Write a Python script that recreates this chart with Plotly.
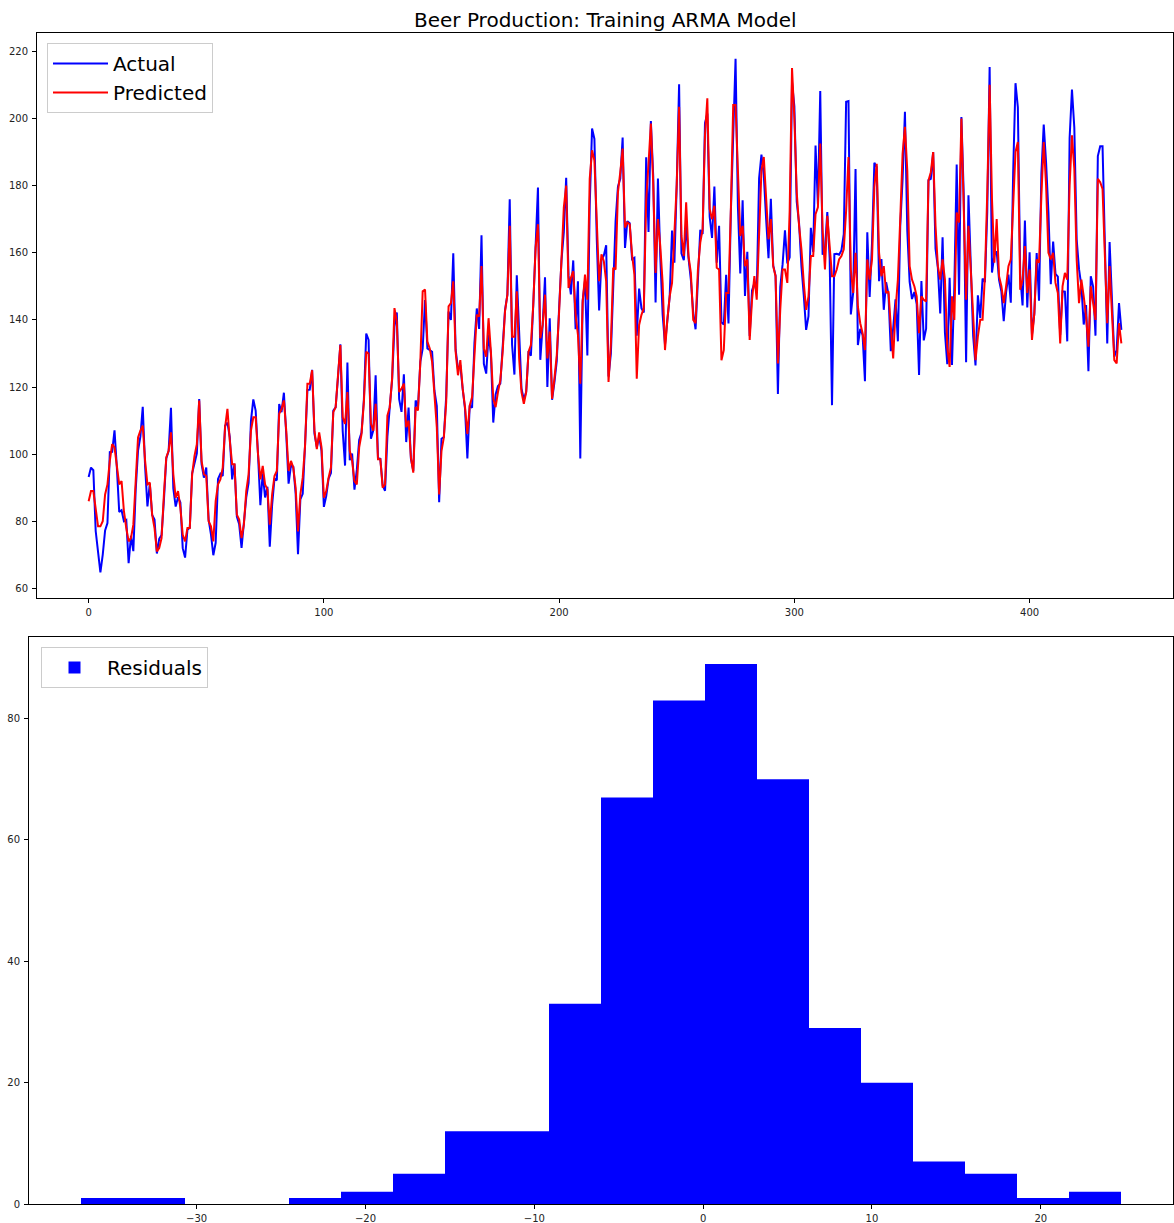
import numpy as np
import plotly.graph_objects as go

# ---------------- data ----------------
actual = [
    93.2, 96.0, 95.2, 77.1, 70.9, 64.8, 70.1, 77.3, 79.5, 100.6,
    100.7, 107.1, 95.9, 82.8, 83.3, 80.0, 80.4, 67.5, 75.7, 71.1,
    89.3, 101.1, 105.2, 114.1, 96.3, 84.4, 91.2, 81.9, 80.5, 70.4,
    74.8, 75.9, 86.3, 98.7, 100.9, 113.8, 89.8, 84.4, 87.2, 85.6,
    72.0, 69.2, 77.5, 78.1, 94.3, 97.7, 100.2, 116.4, 97.1, 93.0,
    96.0, 80.5, 76.1, 69.9, 73.6, 92.6, 94.2, 93.5, 108.5, 109.4,
    105.1, 92.5, 97.1, 81.4, 79.1, 72.1, 78.7, 87.1, 91.4, 109.9,
    116.3, 113.0, 100.0, 84.8, 94.3, 87.1, 90.3, 72.4, 84.9, 92.7,
    92.2, 114.9, 112.5, 118.3, 106.0, 91.2, 96.6, 96.3, 88.2, 70.2,
    86.5, 88.2, 102.8, 119.1, 119.2, 125.1, 106.1, 102.1, 105.2, 101.0,
    84.3, 87.5, 92.7, 94.4, 113.0, 113.9, 122.9, 132.7, 106.9, 96.6,
    127.3, 98.2, 100.2, 89.4, 95.3, 104.2, 106.4, 116.2, 135.9, 134.0,
    104.6, 107.1, 123.5, 98.8, 98.6, 90.6, 89.1, 105.2, 114.0, 122.1,
    138.0, 142.2, 116.4, 112.6, 123.8, 103.6, 113.9, 98.6, 95.0, 116.0,
    113.9, 127.5, 131.4, 145.9, 131.5, 131.0, 130.5, 118.9, 114.3, 85.7,
    104.6, 105.1, 117.3, 142.5, 140.0, 159.8, 131.2, 125.4, 126.5, 119.4,
    113.5, 98.7, 114.5, 113.8, 133.1, 143.4, 137.3, 165.2, 126.9, 124.0,
    135.7, 130.0, 109.4, 117.8, 120.3, 121.0, 132.3, 142.9, 147.4, 175.9,
    132.6, 123.7, 153.3, 134.0, 119.6, 116.2, 118.6, 130.7, 129.3, 144.4,
    163.2, 179.4, 128.1, 138.4, 152.7, 120.0, 140.5, 116.2, 121.4, 127.8,
    143.6, 157.6, 166.2, 182.3, 153.1, 147.6, 157.7, 137.2, 151.5, 98.7,
    145.8, 151.7, 129.4, 174.1, 197.0, 193.9, 164.1, 142.8, 157.9, 159.2,
    162.2, 123.1, 130.0, 150.1, 169.4, 179.7, 182.1, 194.3, 161.4, 169.4,
    168.8, 158.1, 158.5, 135.3, 149.3, 143.4, 142.2, 188.4, 166.2, 199.2,
    182.7, 145.2, 182.1, 158.7, 141.6, 132.6, 139.6, 147.0, 166.6, 157.0,
    180.4, 210.2, 159.8, 157.8, 168.2, 158.4, 152.0, 142.2, 137.2, 152.6,
    166.8, 165.6, 198.6, 201.5, 170.7, 164.4, 179.7, 157.0, 168.0, 139.3,
    138.6, 153.4, 138.9, 172.1, 198.4, 217.8, 173.7, 153.8, 175.6, 147.1,
    160.3, 135.2, 148.8, 151.0, 148.2, 182.2, 189.2, 183.1, 170.0, 158.4,
    176.1, 156.2, 153.2, 117.9, 149.8, 156.6, 166.7, 156.8, 158.6, 210.8,
    203.6, 175.2, 168.7, 155.9, 147.3, 137.0, 141.1, 167.4, 160.2, 191.9,
    174.4, 208.2, 159.4, 161.1, 172.1, 158.4, 114.6, 159.6, 159.7, 159.4,
    160.7, 165.5, 205.0, 205.2, 141.6, 148.1, 184.9, 132.5, 137.3, 135.5,
    121.7, 166.1, 146.8, 162.8, 186.8, 185.5, 151.5, 158.1, 143.0, 151.2,
    147.6, 130.7, 137.5, 146.1, 133.6, 167.9, 181.9, 202.0, 166.5, 151.3,
    146.2, 148.3, 144.7, 123.6, 151.6, 133.9, 137.4, 181.6, 182.0, 190.0,
    161.2, 155.5, 141.9, 164.6, 136.2, 126.8, 152.5, 126.6, 150.1, 186.3,
    147.5, 200.4, 177.2, 127.4, 177.1, 154.4, 135.2, 126.4, 147.3, 140.6,
    152.3, 151.2, 172.2, 215.3, 154.1, 159.3, 160.4, 151.9, 148.4, 139.6,
    148.2, 153.5, 145.1, 183.7, 210.5, 203.3, 153.3, 144.3, 169.6, 143.7,
    160.1, 135.6, 141.8, 159.9, 145.7, 183.5, 198.2, 186.8, 172.0, 150.6,
    163.3, 153.7, 152.9, 135.5, 148.5, 148.4, 133.6, 194.1, 208.6, 197.3,
    164.0, 155.1, 150.1, 138.6, 144.4, 124.7, 153.0, 149.9, 135.3, 188.8,
    191.7, 191.7, 158.4, 133.0, 163.2, 145.0, 129.0, 131.0, 145.0, 137.0,
]

predicted = [
    86, 89, 89, 84, 78.5, 78.5, 80, 88, 91, 98,
    103, 102, 97, 91, 92, 83, 78, 74, 75, 79,
    92, 105, 107, 108.5, 98, 91, 91.5, 82, 78, 71,
    72, 75, 88, 99, 101, 106.5, 94, 87, 89, 84,
    76, 74, 78, 78, 94, 99.5, 103, 116, 98, 94,
    93.5, 80, 78.5, 74, 86, 91, 92.5, 96, 108, 113.5,
    104, 97, 97, 82, 80.5, 75, 79, 89, 94, 107,
    111, 111, 100, 92.5, 96.5, 91, 89.5, 79, 88, 93.5,
    95, 112, 113.5, 116, 107, 95, 98, 96, 90, 77,
    88, 93, 102.5, 121, 121, 125, 107, 101.5, 106.5, 102,
    87, 89, 93, 96, 112.5, 114, 123.5, 132.5, 111, 109,
    118.5, 101, 98, 92, 91, 102, 106, 115.5, 130.5, 130,
    109, 107, 115, 98.5, 98.5, 90, 91, 111.5, 114, 122.5,
    143.5, 139.5, 118.5, 119.5, 121, 108, 110, 99, 94.5, 114,
    113, 127.5, 148.5, 149, 133.5, 131.5, 127.5, 118.5, 108, 88,
    101, 105, 115.5, 144, 145, 151.5, 130.5, 123.5, 128, 119.5,
    114, 106, 114.5, 117, 128, 141.5, 141, 156, 131.5, 129,
    140.5, 130.5, 116.5, 114, 118.5, 122, 130.5, 142.5, 147.5, 168,
    135, 135, 148.5, 128.5, 118.5, 115, 118.5, 130.5, 132.5, 144.5,
    161.5, 168.5, 134.5, 138.5, 147.5, 128.5, 136.5, 116.5, 122.5, 129.5,
    142.5, 160.5, 173.5, 180, 149.5, 152.5, 154.5, 141.5, 135.5, 121,
    145, 153.5, 146, 182, 190.5, 187.5, 168.5, 151.5, 159.5, 157.5,
    151.5, 121.5, 133, 155.5, 155, 178, 184, 191, 167.5, 169,
    168.5, 159.5, 153.5, 122.5, 138.5, 141.5, 143.5, 175.5, 186.5, 198.5,
    180.5, 154, 170, 162, 151, 131, 140, 147, 151, 166,
    180.5, 203.5, 165, 159, 175, 159, 154, 140, 139, 155,
    163, 167, 195, 206, 173, 170, 174, 155.5, 155, 128,
    131, 148, 148, 173, 204, 204, 182.5, 165, 168, 156,
    158, 134, 146, 153, 146, 167, 184.5, 188.5, 174.5, 164,
    170, 156, 153, 127, 143, 155, 155, 151, 172.5, 215,
    200, 178, 168, 161, 151, 143, 147, 159, 159, 171.5,
    173.5, 192.5, 167, 155, 171, 161, 153, 153, 155, 158,
    159, 161, 172.5, 188.5, 155, 148, 160, 144, 139, 136,
    131, 158, 152, 158, 179.5, 186.5, 160, 153, 156, 148,
    148.5, 138, 128.5, 143, 152, 170, 189.5, 197.5, 184.5, 156,
    152, 150, 147, 136, 147, 146, 145.5, 181.5, 184, 190,
    168, 156, 152, 158, 152, 132, 126, 147, 140, 172,
    169, 200, 171, 146, 168, 154, 138, 128, 135, 140,
    140, 153, 178, 210, 176, 157, 170, 153, 150, 145,
    150, 156, 158, 175, 190, 193, 149, 152, 162, 148,
    155, 134, 142, 158, 157, 177, 193, 180, 160, 158,
    160, 151, 148, 133, 150, 154, 152, 180, 195, 185,
    158, 145, 152, 147, 141, 132, 150, 145, 140, 182,
    181, 179, 157, 139, 156, 143, 128, 127, 139, 133,
]

residual_counts = [1, 1, 0, 0, 1, 2, 5, 12, 12, 33, 67, 83, 89, 70, 29, 20, 7, 5, 1, 2]
residual_min = -36.85
residual_max = 24.75

top_x_ticks = [0, 100, 200, 300, 400]
top_y_ticks = [60, 80, 100, 120, 140, 160, 180, 200, 220]
bottom_x_ticks = [-30, -20, -10, 0, 10, 20]
bottom_y_ticks = [0, 20, 40, 60, 80]

# ---------------- figure ----------------
W, H = 1174, 1223
FONT = "DejaVu Sans"

time_index = list(range(len(actual)))
edges = np.linspace(residual_min, residual_max, len(residual_counts) + 1)
centers = (edges[:-1] + edges[1:]) / 2
bin_width = edges[1] - edges[0]

fig = go.Figure()
fig.add_trace(go.Scatter(x=time_index, y=actual, mode="lines", name="Actual",
                         line=dict(color="#0000ff", width=2),
                         xaxis="x", yaxis="y", legend="legend"))
fig.add_trace(go.Scatter(x=time_index, y=predicted, mode="lines", name="Predicted",
                         line=dict(color="#ff0000", width=2),
                         xaxis="x", yaxis="y", legend="legend"))
fig.add_trace(go.Bar(x=centers, y=residual_counts, width=bin_width, name="Residuals",
                     marker=dict(color="#0000ff", line=dict(width=0)),
                     xaxis="x2", yaxis="y2", legend="legend2"))

axis_style = dict(showline=True, mirror=True, linecolor="black", linewidth=1,
                  ticks="outside", ticklen=4, tickwidth=1, tickcolor="black",
                  showgrid=False, zeroline=False, automargin=False,
                  tickfont=dict(family=FONT, size=10, color="#222222"))

def px_x(p):
    return p / W

def px_y(p):
    return 1 - p / H

pad_top = 0.05 * (max(actual) - min(actual))
fig.update_layout(
    width=W, height=H, autosize=False,
    margin=dict(l=0, r=0, t=0, b=0, autoexpand=False),
    paper_bgcolor="white", plot_bgcolor="white",
    font=dict(family=FONT, color="black"),
    showlegend=True,
    xaxis=dict(domain=[px_x(37), px_x(1173)], anchor="y",
               range=[-0.05 * (len(actual) - 1), (len(actual) - 1) * 1.05],
               tickvals=top_x_ticks, ticklabelstandoff=1, **axis_style),
    yaxis=dict(domain=[px_y(598), px_y(33)], anchor="x",
               range=[min(actual) - pad_top, max(actual) + pad_top],
               tickvals=top_y_ticks, ticklabelstandoff=2, **axis_style),
    xaxis2=dict(domain=[px_x(29), px_x(1173)], anchor="y2",
                range=[residual_min - 0.05 * (residual_max - residual_min),
                       residual_max + 0.05 * (residual_max - residual_min)],
                tickvals=bottom_x_ticks, ticklabelstandoff=1, **axis_style),
    yaxis2=dict(domain=[px_y(1204), px_y(637)], anchor="x2",
                range=[0, max(residual_counts) * 1.05],
                tickvals=bottom_y_ticks, ticklabelstandoff=2, **axis_style),
    legend=dict(x=px_x(47), y=px_y(43), xanchor="left", yanchor="top",
                bgcolor="rgba(255,255,255,0.8)", bordercolor="#cccccc", borderwidth=1,
                font=dict(family=FONT, size=20, color="black"),
                itemwidth=55, tracegroupgap=0),
    legend2=dict(x=px_x(41), y=px_y(647), xanchor="left", yanchor="top",
                 bgcolor="rgba(255,255,255,0.8)", bordercolor="#cccccc", borderwidth=1,
                 font=dict(family=FONT, size=20, color="black"),
                 itemwidth=55),
    annotations=[dict(text="Beer Production: Training ARMA Model",
                      xref="paper", yref="paper", x=(px_x(37) + px_x(1173)) / 2, y=px_y(34),
                      xanchor="center", yanchor="bottom", showarrow=False,
                      font=dict(family=FONT, size=20, color="black"))],
)

fig.write_html("out.html")
